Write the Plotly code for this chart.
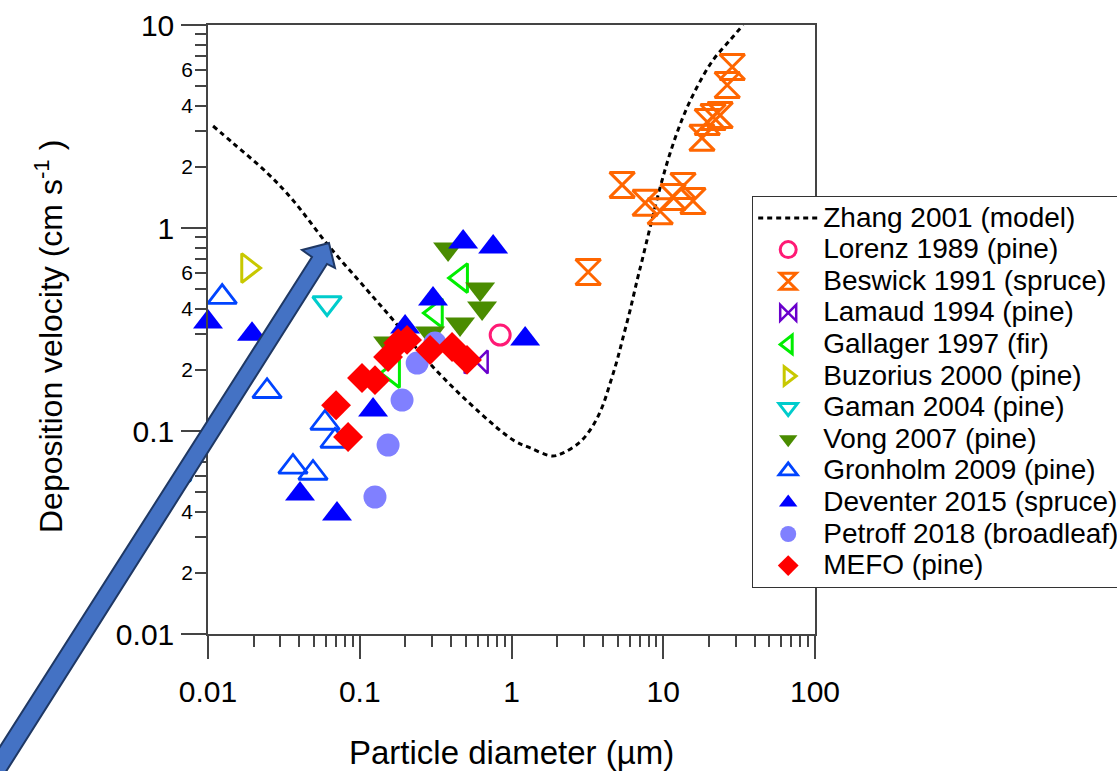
import plotly.graph_objects as go

# ---------------- data ----------------
zhang_x = [0.0108, 0.0146, 0.0245, 0.0363, 0.0618, 0.1117, 0.166, 0.304, 0.621, 1.025, 1.327,
           1.853, 2.19, 2.83, 3.40, 3.96, 4.47, 4.97, 5.44, 6.05, 6.73, 7.26, 8.20, 9.55, 11.1,
           13.5, 16.7, 21.3, 27.6, 33.6]
zhang_y = [3.18, 2.62, 1.87, 1.37, 0.824, 0.495, 0.352, 0.2066, 0.1227, 0.0903, 0.0825,
           0.0753, 0.078, 0.0883, 0.1047, 0.1313, 0.1724, 0.2237, 0.290, 0.394, 0.554, 0.695, 1.01, 1.59, 2.34,
           3.52, 4.95, 6.72, 8.44, 10.0]

lorenz_x = [0.842]
lorenz_y = [0.297]

beswick_x = [3.20, 5.36, 7.60, 9.55, 11.6, 13.5, 15.7, 18.0, 19.5, 21.3, 23.7, 26.4, 28.5]
beswick_y = [0.607, 1.63, 1.33, 1.21, 1.42, 1.61, 1.36, 2.78, 3.33, 3.52, 3.6, 5.06, 6.21]

lamaud_x = [0.585]
lamaud_y = [0.219]

gallager_x = [0.466, 0.318, 0.166]
gallager_y = [0.567, 0.381, 0.193]

buzorius_x = [0.01835]
buzorius_y = [0.635]

gaman_x = [0.0609]
gaman_y = [0.427]

vong_x = [0.382, 0.621, 0.640, 0.458, 0.291, 0.1537]
vong_y = [0.788, 0.50, 0.404, 0.337, 0.304, 0.271]

gronholm_x = [0.0124, 0.0245, 0.059, 0.0687, 0.0363, 0.0492]
gronholm_y = [0.457, 0.157, 0.1095, 0.0893, 0.0665, 0.0621]

deventer_x = [0.01, 0.0195, 0.199, 0.304, 0.480, 0.757, 1.23, 0.1224, 0.0404, 0.0708]
deventer_y = [0.344, 0.30, 0.325, 0.447, 0.853, 0.806, 0.284, 0.127, 0.049, 0.039]

petroff_x = [0.126, 0.1537, 0.190, 0.239, 0.313]
petroff_y = [0.0473, 0.0853, 0.142, 0.216, 0.271]

mefo_x = [0.0698, 0.0838, 0.1035, 0.126, 0.1537, 0.179, 0.205, 0.291, 0.406, 0.509]
mefo_y = [0.134, 0.0934, 0.1824, 0.178, 0.2316, 0.271, 0.281, 0.2506, 0.2594, 0.224]

# ticks
x_major = [0.01, 0.1, 1, 10, 100]
x_major_text = ["0.01", "0.1", "1", "10", "100"]
x_minor = [m * d for d in [0.01, 0.1, 1, 10] for m in range(2, 10)]
y_major = [0.01, 0.1, 1, 10]
y_major_text = ["0.01", "0.1", "1", "10"]
y_minor = [m * d for d in [0.01, 0.1, 1] for m in range(2, 10)]
y_minor_lab = [0.02, 0.04, 0.06, 0.2, 0.4, 0.6, 2, 4, 6]
y_minor_text = ["2", "4", "6", "2", "4", "6", "2", "4", "6"]

FONT = "Liberation Sans, Arial, Helvetica, sans-serif"

fig = go.Figure()


def lbl(s):
    # legend text drawn larger than the legend's line spacing font
    return f'<span style="font-size:28px">{s}</span>'


fig.add_trace(go.Scatter(x=zhang_x, y=zhang_y, mode="lines", name=lbl("Zhang 2001 (model)"),
                         line=dict(color="black", width=3, dash="5px,4px", shape="spline")))


def pts(x, y, name, symbol, color, size, lw=0, fill=True):
    if fill:
        marker = dict(symbol=symbol, color=color, size=size, line=dict(width=0))
    else:
        marker = dict(symbol=symbol, color=color, size=size, line=dict(color=color, width=lw))
    return go.Scatter(x=x, y=y, mode="markers", name=lbl(name), marker=marker, cliponaxis=False)


fig.add_trace(pts(lorenz_x, lorenz_y, "Lorenz 1989 (pine)", "circle-open", "#ff1a75", 20, 3, False))
fig.add_trace(pts(beswick_x, beswick_y, "Beswick 1991 (spruce)", "hourglass-open", "#ff6600", 25, 3, False))
fig.add_trace(pts(lamaud_x, lamaud_y, "Lamaud 1994 (pine)", "bowtie-open", "#6a00cc", 23, 2.5, False))
fig.add_trace(pts(gallager_x, gallager_y, "Gallager 1997 (fir)", "triangle-left-open", "#00ee00", 25, 3, False))
fig.add_trace(pts(buzorius_x, buzorius_y, "Buzorius 2000 (pine)", "triangle-right-open", "#c8c800", 25, 3, False))
fig.add_trace(pts(gaman_x, gaman_y, "Gaman 2004 (pine)", "triangle-down-open", "#00cccc", 25, 3, False))
fig.add_trace(pts(vong_x, vong_y, "Vong 2007 (pine)", "triangle-down", "#4a8c00", 26))
fig.add_trace(pts(gronholm_x, gronholm_y, "Gronholm 2009 (pine)", "triangle-up-open", "#0044ff", 25, 2.8, False))
fig.add_trace(pts(deventer_x, deventer_y, "Deventer 2015 (spruce)", "triangle-up", "#0000ff", 26))
fig.add_trace(pts(petroff_x, petroff_y, "Petroff 2018 (broadleaf)", "circle", "#8080ff", 23))
fig.add_trace(pts(mefo_x, mefo_y, "MEFO (pine)", "diamond", "#ff0000", 23))

# empty trace so that the overlaid label axis (minor tick labels) is drawn
fig.add_trace(go.Scatter(x=[], y=[], yaxis="y2", showlegend=False, hoverinfo="skip"))

# plot-area geometry (pixels) used to place decorations in paper coords
L, R, T, B = 208, 815, 25, 634


def px2paper(px, py):
    return (px - L) / (R - L), (B - py) / (B - T)


arrow_px = [(-34, 800), (312, 257), (302, 250), (329, 243), (335, 268), (327, 264), (-12, 800)]
pp = [px2paper(a, b) for a, b in arrow_px]
path = "M " + " L ".join(f"{a:.4f},{b:.4f}" for a, b in pp) + " Z"

fig.add_shape(type="path", path=path, xref="paper", yref="paper", layer="above",
              fillcolor="#4472c4", line=dict(color="#1f3864", width=2))

axcol = "#444"
fig.update_layout(
    width=1117, height=771,
    margin=dict(l=L, r=1117 - R, t=T, b=771 - B, autoexpand=False),
    paper_bgcolor="white", plot_bgcolor="white",
    font=dict(family=FONT, color="black"),
    showlegend=True,
    legend=dict(x=px2paper(752, 0)[0], y=px2paper(0, 196)[1], xanchor="left", yanchor="top",
                bgcolor="white", bordercolor="#333", borderwidth=1.2, itemwidth=60,
                font=dict(size=22, family=FONT, color="black"), traceorder="normal"),
    xaxis=dict(type="log", range=[-2, 2], tickmode="array", tickvals=x_major, ticktext=x_major_text,
               ticks="outside", ticklen=23, tickwidth=1.5, tickcolor=axcol,
               showline=True, linecolor=axcol, linewidth=1.5, mirror=True,
               showgrid=False, zeroline=False, tickfont=dict(size=30, family=FONT, color="black"),
               ticklabelstandoff=7,
               minor=dict(tickvals=x_minor, ticks="outside", ticklen=11, tickwidth=1.5,
                          tickcolor=axcol, showgrid=False)),
    yaxis=dict(type="log", range=[-2, 1], tickmode="array", tickvals=y_major, ticktext=y_major_text,
               ticks="outside", ticklen=25, tickwidth=1.5, tickcolor=axcol,
               showline=True, linecolor=axcol, linewidth=1.5, mirror=True,
               showgrid=False, zeroline=False, tickfont=dict(size=30, family=FONT, color="black"),
               ticklabelstandoff=1,
               minor=dict(tickvals=y_minor, ticks="outside", ticklen=11, tickwidth=1.5,
                          tickcolor=axcol, showgrid=False)),
    yaxis2=dict(type="log", range=[-2, 1], overlaying="y", side="left", anchor="x",
                tickmode="array", tickvals=y_minor_lab, ticktext=y_minor_text,
                ticks="", showline=False, showgrid=False, zeroline=False,
                tickfont=dict(size=21, family=FONT, color="black"), ticklabelstandoff=14),
    annotations=[
        dict(text="Particle diameter (µm)", xref="paper", yref="paper",
             x=0.5, y=px2paper(0, 752)[1], showarrow=False,
             xanchor="center", yanchor="middle", font=dict(size=33, family=FONT, color="black")),
        dict(text="Deposition velocity (cm s<sup>-1</sup> )", xref="paper", yref="paper",
             x=px2paper(49, 0)[0], y=px2paper(0, 337)[1], showarrow=False, textangle=-90,
             xanchor="center", yanchor="middle", font=dict(size=32, family=FONT, color="black")),
    ],
)

fig.write_html("out.html")
